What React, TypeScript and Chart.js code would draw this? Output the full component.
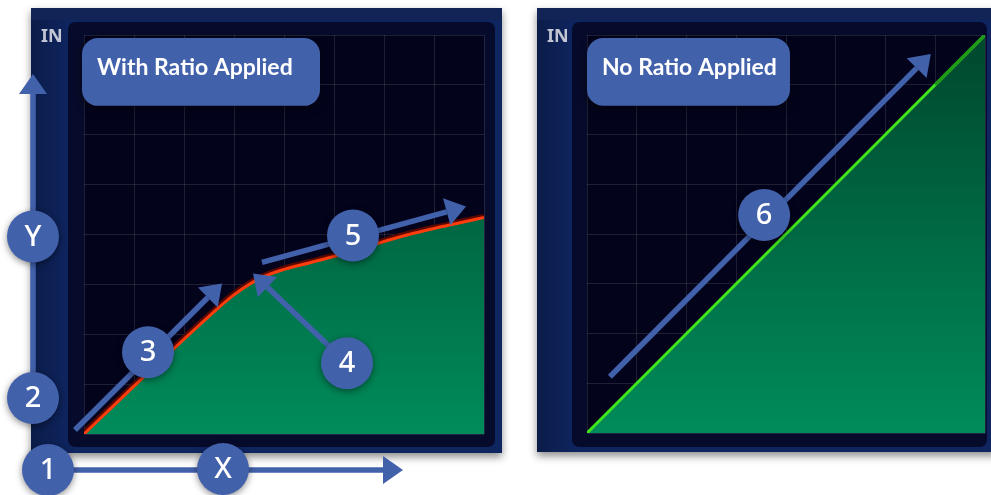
import React, { useEffect, useRef } from 'react';
import { Chart, registerables } from 'chart.js';

Chart.register(...registerables);

// ---------- data ----------
const inputLevels = [0, 0.5, 1, 1.5, 2, 2.5, 3, 3.5, 4, 4.5, 5, 5.5, 6, 6.5, 7, 7.5, 8];
const ratioOutput = [0, 0.48, 0.96, 1.43, 1.9, 2.36, 2.79, 3.11, 3.3, 3.43, 3.56, 3.71, 3.86, 4.0, 4.12, 4.23, 4.34];
const linearInput = [0, 8];
const linearOutput = [0, 8];
const dimInput = [7, 8];
const dimOutput = [7, 8];
const axisMin = 0;
const axisMax = 8;
const axisStep = 1;

const leftTitle = 'With Ratio Applied';
const rightTitle = 'No Ratio Applied';
const cornerText = 'IN';

// annotation anchors, in data units of each chart
const leftArrows = [
  { from: [-1.02, 0.72], to: [-1.02, 7.22] },
  { from: [-0.72, -0.72], to: [6.38, -0.72] },
  { from: [-0.18, 0.08], to: [2.76, 3.02] },
  { from: [5.26, 1.42], to: [3.38, 3.22] },
  { from: [3.56, 3.44], to: [7.64, 4.56] },
];
const leftBadges = [
  { at: [-1.02, 3.96], text: 'Y' },
  { at: [-1.02, 0.72], text: '2' },
  { at: [-0.72, -0.72], text: '1' },
  { at: [2.78, -0.70], text: 'X' },
  { at: [1.28, 1.64], text: '3' },
  { at: [5.26, 1.42], text: '4' },
  { at: [5.38, 3.98], text: '5' },
];
const leftBox = { x0: -0.04, x1: 4.72, y0: 7.94, y1: 6.58 };
const rightArrows = [{ from: [0.46, 1.13], to: [6.91, 7.62] }];
const rightBadges = [{ at: [3.56, 4.38], text: '6' }];
const rightBox = { x0: 0, x1: 4.08, y0: 7.94, y1: 6.58 };

// ---------- styles ----------
const BLUE = '#4261ab';

type Frame = { l: number; t: number; r: number; b: number };

function rectFrom(a: any, f: Frame) {
  return { x: a.left - f.l, y: a.top - f.t, w: a.right - a.left + f.l + f.r, h: a.bottom - a.top + f.t + f.b };
}

function drawArrow(ctx: CanvasRenderingContext2D, x1: number, y1: number, x2: number, y2: number) {
  const ang = Math.atan2(y2 - y1, x2 - x1);
  const headLen = 20;
  const headW = 14;
  const bx = x2 - headLen * Math.cos(ang);
  const by = y2 - headLen * Math.sin(ang);
  ctx.save();
  ctx.strokeStyle = BLUE;
  ctx.fillStyle = BLUE;
  ctx.lineWidth = 5.5;
  ctx.beginPath();
  ctx.moveTo(x1, y1);
  ctx.lineTo(bx, by);
  ctx.stroke();
  ctx.beginPath();
  ctx.moveTo(x2, y2);
  ctx.lineTo(bx + headW * Math.sin(ang), by - headW * Math.cos(ang));
  ctx.lineTo(bx - headW * Math.sin(ang), by + headW * Math.cos(ang));
  ctx.closePath();
  ctx.fill();
  ctx.restore();
}

function drawBadge(ctx: CanvasRenderingContext2D, x: number, y: number, text: string) {
  ctx.save();
  ctx.shadowColor = 'rgba(0,0,0,0.45)';
  ctx.shadowBlur = 7;
  ctx.shadowOffsetY = 2;
  ctx.fillStyle = BLUE;
  ctx.beginPath();
  ctx.arc(x, y, 26, 0, Math.PI * 2);
  ctx.fill();
  ctx.restore();
  ctx.save();
  ctx.fillStyle = '#ffffff';
  ctx.font = '500 29px "Noto Sans"';
  ctx.textAlign = 'center';
  ctx.textBaseline = 'middle';
  ctx.fillText(text, x, y + 1);
  ctx.restore();
}

function makePlugin(cfg: {
  outer: Frame;
  inner: Frame;
  arrows: { from: number[]; to: number[] }[];
  badges: { at: number[]; text: string }[];
  box: { x0: number; x1: number; y0: number; y1: number };
  title: string;
}) {
  return {
    id: 'decor',
    beforeDraw(chart: any) {
      const { ctx, chartArea: a } = chart;
      const o = rectFrom(a, cfg.outer);
      const i = rectFrom(a, cfg.inner);
      ctx.save();
      ctx.shadowColor = 'rgba(0,0,0,0.45)';
      ctx.shadowBlur = 8;
      ctx.shadowOffsetY = 4;
      const og = ctx.createLinearGradient(o.x, 0, o.x + 40, 0);
      og.addColorStop(0, '#0b1c49');
      og.addColorStop(1, '#0f2560');
      ctx.fillStyle = og;
      ctx.fillRect(o.x, o.y, o.w, o.h);
      ctx.restore();
      ctx.save();
      ctx.fillStyle = '#122455';
      ctx.fillRect(o.x, o.y, o.w, 12);
      ctx.fillStyle = '#070b2b';
      ctx.beginPath();
      ctx.roundRect(i.x, i.y, i.w, i.h, 7);
      ctx.fill();
      ctx.fillStyle = '#03041c';
      ctx.fillRect(a.left, a.top, a.right - a.left, a.bottom - a.top);
      ctx.restore();
    },
    afterDraw(chart: any) {
      const { ctx } = chart;
      const xs = chart.scales.x;
      const ys = chart.scales.y;
      const px = (v: number) => xs.getPixelForValue(v);
      const py = (v: number) => ys.getPixelForValue(v);
      const o = rectFrom(chart.chartArea, cfg.outer);
      // corner text
      ctx.save();
      ctx.fillStyle = '#c3c7d3';
      ctx.font = 'bold 18px "Noto Sans"';
      ctx.textAlign = 'left';
      ctx.textBaseline = 'middle';
      ctx.fillText(cornerText, o.x + 10, py(axisMax) + 2);
      ctx.restore();
      // label box
      const b = cfg.box;
      ctx.save();
      ctx.shadowColor = 'rgba(0,0,0,0.5)';
      ctx.shadowBlur = 8;
      ctx.shadowOffsetY = 3;
      ctx.fillStyle = BLUE;
      ctx.beginPath();
      ctx.roundRect(px(b.x0), py(b.y0), px(b.x1) - px(b.x0), py(b.y1) - py(b.y0), 16);
      ctx.fill();
      ctx.restore();
      ctx.save();
      ctx.fillStyle = '#ffffff';
      ctx.font = 'bold 23px Lato';
      ctx.textAlign = 'left';
      ctx.textBaseline = 'alphabetic';
      ctx.fillText(cfg.title, px(b.x0) + 15, py(b.y0) + 37);
      ctx.restore();
      cfg.arrows.forEach((ar) => drawArrow(ctx, px(ar.from[0]), py(ar.from[1]), px(ar.to[0]), py(ar.to[1])));
      cfg.badges.forEach((bd) => drawBadge(ctx, px(bd.at[0]), py(bd.at[1]), bd.text));
    },
  };
}

function greenFill(top: string, bottom: string) {
  return (c: any) => {
    const a = c.chart.chartArea;
    if (!a) return bottom;
    const g = c.chart.ctx.createLinearGradient(0, a.top, 0, a.bottom);
    g.addColorStop(0, top);
    g.addColorStop(1, bottom);
    return g;
  };
}

function scalesCfg() {
  const common = {
    type: 'linear' as const,
    min: axisMin,
    max: axisMax,
    z: 1,
    border: { display: false },
    grid: { color: 'rgba(255,255,255,0.11)', lineWidth: 1, drawTicks: false },
    ticks: { display: false, stepSize: axisStep },
  };
  return { x: { ...common }, y: { ...common } };
}

const pts = (xs: number[], ys: number[]) => xs.map((x, i) => ({ x, y: ys[i] }));

export default function App() {
  const leftRef = useRef<HTMLCanvasElement>(null);
  const rightRef = useRef<HTMLCanvasElement>(null);

  useEffect(() => {
    const left = new Chart(leftRef.current!, {
      type: 'line',
      data: {
        datasets: [
          {
            data: pts(inputLevels, ratioOutput),
            borderColor: '#ff3c0c',
            borderWidth: 3,
            backgroundColor: greenFill('#00472d', '#008c5a'),
            fill: 'start',
            pointRadius: 0,
            cubicInterpolationMode: 'monotone',
            order: 0,
          },
          {
            data: pts(inputLevels, ratioOutput),
            borderColor: '#5a0800',
            borderWidth: 7.5,
            fill: false,
            pointRadius: 0,
            cubicInterpolationMode: 'monotone',
            order: 1,
          },
        ],
      },
      options: {
        animation: false,
        responsive: false,
        events: [],
        layout: { padding: { left: 84, top: 35, right: 26, bottom: 61 } },
        plugins: { legend: { display: false }, tooltip: { enabled: false } },
        scales: scalesCfg() as any,
      },
      plugins: [
        makePlugin({
          outer: { l: 53, t: 27, r: 18, b: 19 },
          inner: { l: 16, t: 13, r: 11, b: 13 },
          arrows: leftArrows,
          badges: leftBadges,
          box: leftBox,
          title: leftTitle,
        }),
      ],
    });
    const right = new Chart(rightRef.current!, {
      type: 'line',
      data: {
        datasets: [
          {
            data: pts(dimInput, dimOutput),
            borderColor: '#1f9a18',
            borderWidth: 3.5,
            fill: false,
            pointRadius: 0,
            order: 0,
          },
          {
            data: pts(linearInput, linearOutput),
            borderColor: '#40e61a',
            borderWidth: 3,
            backgroundColor: greenFill('#00472d', '#008c5a'),
            fill: 'start',
            pointRadius: 0,
            order: 1,
          },
        ],
      },
      options: {
        animation: false,
        responsive: false,
        events: [],
        layout: { padding: { left: 77, top: 35, right: 6, bottom: 62 } },
        plugins: { legend: { display: false }, tooltip: { enabled: false } },
        scales: scalesCfg() as any,
      },
      plugins: [
        makePlugin({
          outer: { l: 50, t: 27, r: 12, b: 19 },
          inner: { l: 15, t: 13, r: 2, b: 14 },
          arrows: rightArrows,
          badges: rightBadges,
          box: rightBox,
          title: rightTitle,
        }),
      ],
    });
    return () => {
      left.destroy();
      right.destroy();
    };
  }, []);

  return (
    <div style={{ position: 'absolute', left: 0, top: 0, width: 991, height: 495, background: '#ffffff', overflow: 'hidden' }}>
      <canvas ref={leftRef} width={510} height={495} style={{ position: 'absolute', left: 0, top: 0 }} />
      <canvas ref={rightRef} width={481} height={495} style={{ position: 'absolute', left: 510, top: 0 }} />
    </div>
  );
}
